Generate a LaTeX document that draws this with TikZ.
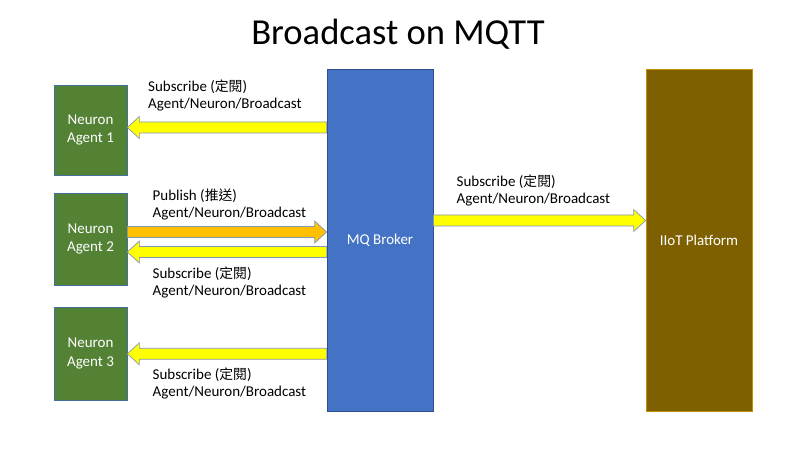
\documentclass[tikz,border=0pt]{standalone}
\usepackage{fontspec}
\setmainfont{Carlito}
\newfontfamily\cjkfont{Noto Sans CJK TC}
\usetikzlibrary{calc}
\definecolor{agentgreen}{HTML}{548235}
\definecolor{agentedge}{HTML}{41719C}
\definecolor{brokerblue}{HTML}{4472C4}
\definecolor{brokeredge}{HTML}{2F528F}
\definecolor{iiotbrown}{HTML}{7F6000}
\definecolor{iiotedge}{HTML}{BF9000}
\definecolor{arrowedge}{HTML}{8497B0}
\definecolor{subyellow}{HTML}{FFFF00}
\definecolor{puborange}{HTML}{FFC000}
\newcommand\zh[1]{{\cjkfont\fontsize{13.8pt}{17pt}\selectfont #1}}
% block arrow: #1 fill, #2 tip node anchor, #3 tail node anchor, #4 y (pt), #5 direction (+1 right, -1 left)
\newcommand\blockarrow[5]{%
  \draw[blockline,fill=#1] let \p1=(#2), \p2=(#3) in
    (\x2,#4pt-5.5pt) -- (\x1-#5*12pt,#4pt-5.5pt) -- (\x1-#5*12pt,#4pt-11pt) --
    (\x1,#4pt) -- (\x1-#5*12pt,#4pt+11pt) -- (\x1-#5*12pt,#4pt+5.5pt) --
    (\x2,#4pt+5.5pt) -- cycle;}
\tikzset{
  agentbox/.style={draw=agentedge, line width=0.7pt, fill=agentgreen, text=white,
    minimum width=73pt, align=center, inner sep=0pt,
    font=\fontsize{15pt}{18.5pt}\selectfont},
  bigbox/.style={line width=0.8pt, text=white, minimum width=106pt, minimum height=342pt,
    inner sep=0pt, font=\fontsize{15pt}{18pt}\selectfont},
  lbl/.style={anchor=west, align=left, inner sep=0pt,
    font=\fontsize{15pt}{17pt}\selectfont},
  blockline/.style={draw=arrowedge, line width=0.7pt, line join=miter},
}
\begin{document}
\begin{tikzpicture}[x=1pt,y=1pt]
\useasboundingbox (0,0) rectangle (800,450);
\fill[white] (0,0) rectangle (800,450);
\node[font=\fontsize{36.6pt}{40pt}\selectfont, inner sep=0pt] (title) at (398,416) {Broadcast on MQTT};

\node[agentbox, minimum height=90pt, text depth=3pt] (a1) at (90.5,320) {Neuron\\Agent 1};
\node[agentbox, minimum height=92pt, text depth=3pt] (a2) at (90.5,211) {Neuron\\Agent 2};
\node[agentbox, minimum height=93pt, text depth=3pt] (a3) at (90.5,96.5) {Neuron\\Agent 3};
\node[bigbox, draw=brokeredge, fill=brokerblue] (broker) at (380,210) {MQ Broker};
\node[bigbox, draw=iiotedge, fill=iiotbrown] (iiot) at (699,210) {IIoT Platform};

\blockarrow{subyellow}{a1.east}{broker.west}{322.5}{-1}
\blockarrow{puborange}{broker.west}{a2.east}{218}{1}
\blockarrow{subyellow}{a2.east}{broker.west}{198}{-1}
\blockarrow{subyellow}{a3.east}{broker.west}{96.2}{-1}
\blockarrow{subyellow}{iiot.west}{broker.east}{229.5}{1}

\node[lbl] (l1) at (148,354.5) {Subscribe (\zh{定閱})\\Agent/Neuron/Broadcast};
\node[lbl] (l2) at (152.5,245.5) {Publish (\zh{推送})\\Agent/Neuron/Broadcast};
\node[lbl] (l3) at (152.5,168) {Subscribe (\zh{定閱})\\Agent/Neuron/Broadcast};
\node[lbl] (l4) at (152.5,66.2) {Subscribe (\zh{定閱})\\Agent/Neuron/Broadcast};
\node[lbl] (l5) at (456.5,259.5) {Subscribe (\zh{定閱})\\Agent/Neuron/Broadcast};
\end{tikzpicture}
\end{document}
